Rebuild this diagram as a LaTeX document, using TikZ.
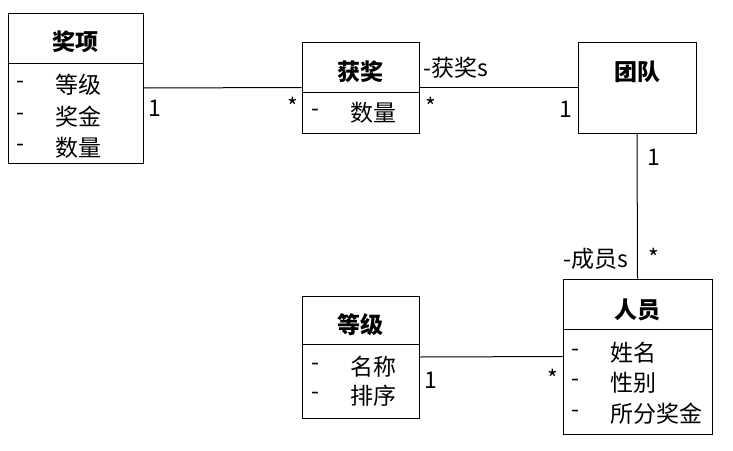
\documentclass[tikz,border=0pt]{standalone}
\usepackage{fontspec}
\setmainfont{Noto Sans CJK SC}
\begin{document}
\begin{tikzpicture}[x=1pt,y=-1pt,
  box/.style={draw, line width=1pt, inner sep=0pt},
  lbl/.style={inner sep=0pt, font=\fontsize{23}{28}\selectfont},
  ttl/.style={inner sep=0pt, font=\fontsize{23}{28}\selectfont\bfseries},
  conn/.style={line width=1pt}]
\useasboundingbox (0,0) rectangle (733,450);
% boxes
\node[box, minimum width=135, minimum height=150] (jx) at (75.5,88) {};
\node[box, minimum width=117, minimum height=91] (hj) at (360.5,87.5) {};
\node[box, minimum width=118, minimum height=91] (td) at (637,87.5) {};
\node[box, minimum width=117, minimum height=122] (dj) at (360.5,357) {};
\node[box, minimum width=149, minimum height=155] (ry) at (637.5,356.5) {};
% dividers
\draw[conn] (jx.west |- 0,63) -- (jx.east |- 0,63);
\draw[conn] (hj.west |- 0,92) -- (hj.east |- 0,92);
\draw[conn] (dj.west |- 0,344) -- (dj.east |- 0,344);
\draw[conn] (ry.west |- 0,329) -- (ry.east |- 0,329);
% titles
\node[ttl] (jxt) at (jx.center |- 0,42) {奖项};
\node[ttl] (hjt) at (hj.center |- 0,72) {获奖};
\node[ttl] (tdt) at (td.center |- 0,72) {团队};
\node[ttl] (djt) at (dj.center |- 0,325) {等级};
\node[ttl] (ryt) at (ry.center |- 0,310) {人员};
% attributes
\foreach \y/\t [count=\i] in {85/等级,117/奖金,148/数量}{
  \node[lbl, anchor=west] (jxd\i) at (16,\y) {-};
  \node[lbl, anchor=west] (jxa\i) at (55,\y) {\t};
}
\node[lbl, anchor=west] (hjd1) at (311,113) {-};
\node[lbl, anchor=west] (hja1) at (350,113) {数量};
\foreach \y/\t [count=\i] in {367/名称,396/排序}{
  \node[lbl, anchor=west] (djd\i) at (311,\y) {-};
  \node[lbl, anchor=west] (dja\i) at (350,\y) {\t};
}
\foreach \y/\t [count=\i] in {353/姓名,383/性别,414/所分奖金}{
  \node[lbl, anchor=west] (ryd\i) at (571,\y) {-};
  \node[lbl, anchor=west] (rya\i) at (610,\y) {\t};
}
% connectors
\draw[conn] (jx.east) -- (hj.west);
\draw[conn] (hj.east) -- (td.west);
\draw[conn] (td.south) -- (ry.north);
\draw[conn] (dj.east) -- (ry.west);
% multiplicities and roles
\node[lbl] (m1) at (155,108) {1};
\node[lbl] (m2) at (293,106) {*};
\node[lbl, anchor=west] (r1) at (423,68) {-获奖s};
\node[lbl] (m3) at (431,106) {*};
\node[lbl] (m4) at (566,109) {1};
\node[lbl] (m5) at (654,157) {1};
\node[lbl] (m6) at (654,257) {*};
\node[lbl, anchor=east] (r2) at (628,259) {-成员s};
\node[lbl] (m7) at (431,380) {1};
\node[lbl] (m8) at (553,378) {*};
\end{tikzpicture}
\end{document}
